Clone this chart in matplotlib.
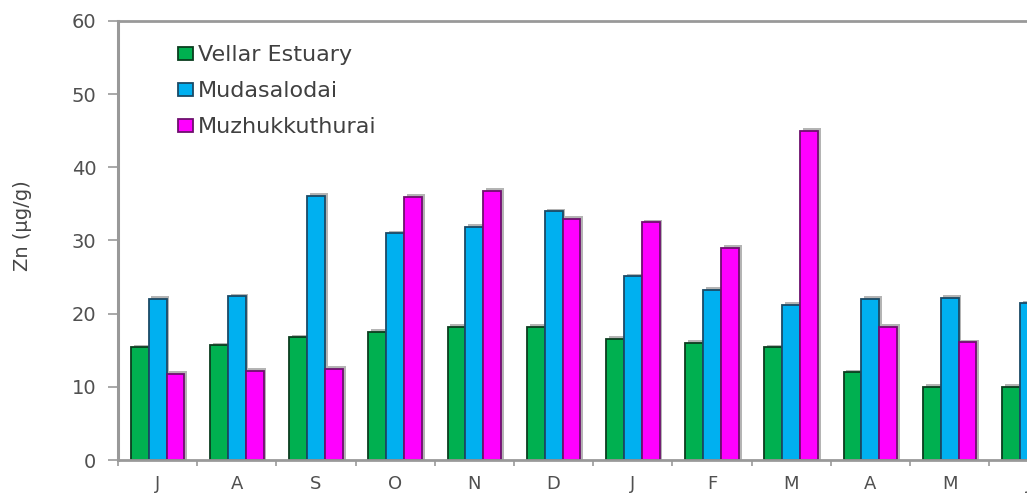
import matplotlib.pyplot as plt
import numpy as np

# data
months = ['J', 'A', 'S', 'O', 'N', 'D', 'J', 'F', 'M', 'A', 'M', 'J']
vellar = [15.4, 15.7, 16.8, 17.5, 18.2, 18.2, 16.6, 16.0, 15.4, 12.0, 10.0, 10.0]
mudasalodai = [22.0, 22.4, 36.1, 31.0, 31.9, 34.0, 25.1, 23.3, 21.2, 22.0, 22.2, 21.4]
muzhukkuthurai = [11.8, 12.2, 12.5, 36.0, 36.8, 33.0, 32.5, 29.0, 45.0, 18.2, 16.1, 15.0]

series = [
    ('Vellar Estuary', vellar, '#00b050', '#0b3d1f'),
    ('Mudasalodai', mudasalodai, '#00b0f0', '#1b4a66'),
    ('Muzhukkuthurai', muzhukkuthurai, '#ff00ff', '#6e0f6e'),
]

# the reference text looks wide, DejaVu Sans is closer than an Arial clone
plt.rcParams['font.family'] = ['DejaVu Sans']

fig = plt.figure(figsize=(10.27, 4.94), dpi=100)
# the plot area runs off the right edge of the picture, as in the reference
ax = fig.add_axes([118 / 1027, 34 / 494, 950.4 / 1027, 439 / 494])

x = np.arange(len(months))
w = 0.225
for i, (name, vals, col, edge) in enumerate(series):
    pos = x + (i - 1) * w
    # soft grey shadow offset up and right
    ax.bar(pos + 0.035, np.array(vals) + 0.35, width=w, color='#b4b4b4',
           edgecolor='none', zorder=1)
    ax.bar(pos, vals, width=w, color=col, edgecolor=edge, linewidth=1.3,
           label=name, zorder=2)

ax.set_xlim(-0.5, len(months) - 0.5)
ax.set_ylim(0, 60)
ax.set_yticks(range(0, 61, 10))

# month labels centred, ticks on the group boundaries
ax.set_xticks(np.arange(-0.5, len(months), 1.0))
ax.set_xticklabels([])
ax.set_xticks(x, minor=True)
ax.set_xticklabels(months, minor=True)
ax.tick_params(axis='x', which='minor', length=0, pad=11, labelsize=13, labelcolor='#505050')
ax.tick_params(axis='x', which='major', length=4, width=1.2, color='#9a9a9a')
ax.tick_params(axis='y', length=7.5, width=1.2, color='#9a9a9a', pad=8,
               labelsize=14, labelcolor='#505050')

for s in ['left', 'bottom', 'top']:
    ax.spines[s].set_color('#999999')
ax.spines['left'].set_linewidth(2.2)
ax.spines['bottom'].set_linewidth(2.0)
ax.spines['top'].set_linewidth(2.0)
ax.spines['right'].set_visible(False)

ax.set_ylabel('Zn (µg/g)', fontsize=14, color='#454545')
ax.yaxis.set_label_coords(-0.09, 0.535)

leg = ax.legend(loc='upper left', bbox_to_anchor=(0.054, 0.965), frameon=False,
                fontsize=16, labelspacing=0.72, handlelength=0.65,
                handleheight=0.55, handletextpad=0.25, borderaxespad=0)
for t in leg.get_texts():
    t.set_color('#404040')

fig.savefig('out.png', dpi=100)
